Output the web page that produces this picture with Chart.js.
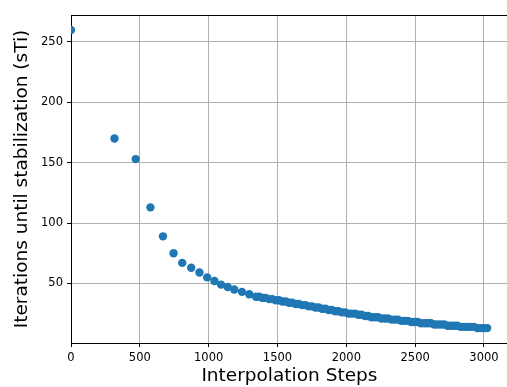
<!DOCTYPE html>
<html>
<head>
<meta charset="utf-8">
<script src="https://cdn.jsdelivr.net/npm/chart.js@4/dist/chart.umd.min.js"></script>
<style>
  html, body { margin: 0; padding: 0; background: #fff; overflow: hidden; }
  #wrap { width: 507px; height: 387px; overflow: hidden; }
  canvas { display: block; }
</style>
</head>
<body>
<div id="wrap"><canvas id="c" width="512" height="387"></canvas></div>
<script>
// Interpolation steps (x) and the iterations needed until stabilization (y)
const interpolationSteps = [
  0, 316, 470, 577, 668, 745, 808, 873, 933, 989,
  1042, 1090, 1138, 1186, 1242, 1295, 1343, 1368, 1392, 1415,
  1440, 1463, 1488, 1511, 1535, 1560, 1583, 1607, 1632, 1655,
  1679, 1704, 1727, 1751, 1776, 1799, 1823, 1848, 1871, 1895,
  1920, 1943, 1967, 1992, 2015, 2039, 2064, 2087, 2111, 2136,
  2159, 2183, 2208, 2231, 2255, 2280, 2303, 2327, 2352, 2375,
  2399, 2424, 2447, 2471, 2496, 2519, 2543, 2568, 2591, 2615,
  2640, 2663, 2687, 2712, 2735, 2759, 2784, 2807, 2831, 2856,
  2879, 2903, 2928, 2951, 2975, 3000, 3023
];
const iterations = [
  260, 170, 153, 113, 89, 75, 67, 63, 59, 55,
  52, 49, 47, 45, 43, 41, 39, 39, 38, 38,
  37, 37, 36, 36, 35, 35, 34, 34, 33, 33,
  32, 32, 31, 31, 30, 30, 29, 29, 28, 28,
  27, 27, 26, 26, 25, 25, 25, 24, 24, 23,
  23, 22, 22, 22, 21, 21, 21, 20, 20, 20,
  19, 19, 19, 18, 18, 18, 17, 17, 17, 17,
  16, 16, 16, 16, 15, 15, 15, 15, 14, 14,
  14, 14, 14, 13, 13, 13, 13
];
const xTicks = [0, 500, 1000, 1500, 2000, 2500, 3000];
const yTicks = [50, 100, 150, 200, 250];

const points = interpolationSteps.map((x, i) => ({ x: x, y: iterations[i] }));

const FONT = "'DejaVu Sans', sans-serif";

// top spine of the axes frame
const topSpine = {
  id: 'topSpine',
  afterDraw(chart) {
    const { ctx, chartArea } = chart;
    ctx.save();
    ctx.strokeStyle = '#000';
    ctx.lineWidth = 1;
    ctx.beginPath();
    ctx.moveTo(chartArea.left, Math.round(chartArea.top) + 0.5);
    ctx.lineTo(chartArea.right, Math.round(chartArea.top) + 0.5);
    ctx.stroke();
    ctx.restore();
  }
};

new Chart(document.getElementById('c'), {
  type: 'scatter',
  data: {
    datasets: [{
      data: points,
      backgroundColor: '#1f77b4',
      borderWidth: 0,
      pointRadius: 4.2,
      pointHoverRadius: 4.2,
      clip: { left: 0, top: false, right: false, bottom: false }
    }]
  },
  options: {
    responsive: false,
    animation: false,
    devicePixelRatio: 1,
    layout: { padding: { top: 15, right: 2, bottom: 0, left: 0 } },
    plugins: { legend: { display: false }, tooltip: { enabled: false } },
    scales: {
      x: {
        type: 'linear',
        min: 0,
        max: 3173,
        afterBuildTicks: s => { s.ticks = xTicks.map(v => ({ value: v })); },
        afterFit: s => { s.height = 44; },
        ticks: {
          color: '#000',
          font: { family: FONT, size: 11.5 },
          padding: 4,
          maxRotation: 0,
          autoSkip: false,
          callback: v => String(v)
        },
        grid: {
          color: '#b0b0b0',
          lineWidth: 1,
          drawTicks: true,
          tickLength: 4,
          tickColor: '#000',
          tickWidth: 1
        },
        border: { display: true, color: '#000', width: 1 },
        title: {
          display: true,
          text: 'Interpolation Steps',
          color: '#000',
          font: { family: FONT, size: 18.5 },
          padding: { top: 0, bottom: 0 }
        }
      },
      y: {
        type: 'linear',
        min: 0.65,
        max: 272.35,
        afterBuildTicks: s => { s.ticks = yTicks.map(v => ({ value: v })); },
        afterFit: s => { s.width = 71; },
        ticks: {
          color: '#000',
          font: { family: FONT, size: 11.5 },
          padding: 4,
          autoSkip: false,
          callback: v => String(v)
        },
        grid: {
          color: '#b0b0b0',
          lineWidth: 1,
          drawTicks: true,
          tickLength: 4,
          tickColor: '#000',
          tickWidth: 1
        },
        border: { display: true, color: '#000', width: 1 },
        title: {
          display: true,
          text: 'Iterations until stabilization (sTi)',
          color: '#000',
          font: { family: FONT, size: 18.5 },
          padding: { top: 11, bottom: 0 }
        }
      }
    }
  },
  plugins: [topSpine]
});
</script>
</body>
</html>
